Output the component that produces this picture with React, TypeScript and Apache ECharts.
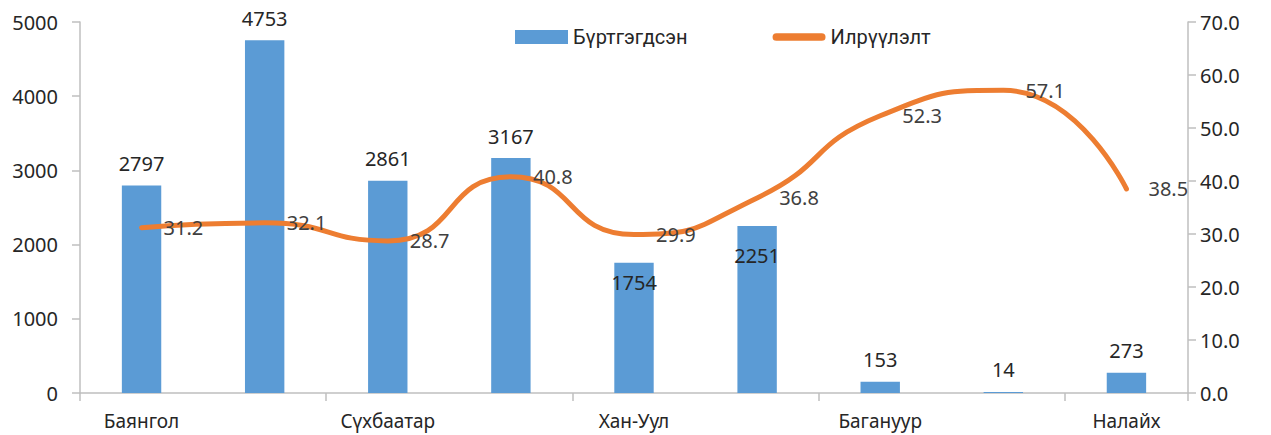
import React, { useEffect, useRef } from "react";
import * as echarts from "echarts";

const categories = ["Баянгол", "Баянзүрх", "Сүхбаатар", "Чингэлтэй", "Хан-Уул", "Сонгинохайрхан", "Багануур", "Багахангай", "Налайх"];
const registered = [2797, 4753, 2861, 3167, 1754, 2251, 153, 14, 273];
const detection = [31.2, 32.1, 28.7, 40.8, 29.9, 36.8, 52.3, 57.1, 38.5];
const insideLabelIdx = [4, 5];

const FONT = "Noto Sans";
const FS = 19;
const NFS = 20;

const lineIcon =
  "path://M0,0 L0.01,0 Z M55,14 L55.01,14 Z M4,3 L51,3 A4,4 0 0 1 51,11 L4,11 A4,4 0 0 1 4,3 Z";

export default function App() {
  const ref = useRef<HTMLDivElement>(null);
  useEffect(() => {
    const chart = echarts.init(ref.current!, null, { renderer: "svg" });
    chart.setOption({
      animation: false,
      textStyle: { fontFamily: FONT },
      legend: {
        top: 22,
        left: 510,
        itemWidth: 53,
        itemHeight: 14,
        itemGap: 85,
        textStyle: { fontSize: 20, color: "#262626", fontFamily: "Roboto" },
        data: [
          { name: "Бүртгэгдсэн", icon: "rect" },
          { name: "Илрүүлэлт", icon: lineIcon, itemStyle: { color: "#ED7D31" } },
        ],
      },
      grid: { left: 80, right: 83, top: 22, bottom: 42, containLabel: false },
      xAxis: {
        type: "category",
        data: categories,
        axisLine: { lineStyle: { color: "#BFBFBF", width: 1.5 } },
        axisTick: { show: true, length: 8, lineStyle: { color: "#BFBFBF", width: 1.5 } },
        axisLabel: { interval: 1, fontSize: FS, color: "#262626", margin: 18, fontFamily: FONT },
      },
      yAxis: [
        {
          type: "value",
          min: 0,
          max: 5000,
          interval: 1000,
          splitLine: { show: false },
          axisLine: { show: true, lineStyle: { color: "#BFBFBF", width: 1.5 } },
          axisTick: { show: true, length: 8, lineStyle: { color: "#BFBFBF", width: 1.5 } },
          axisLabel: {
            fontSize: NFS,
            color: "#262626",
            margin: 22,
            fontFamily: FONT,
            formatter: (v: number) => String(v),
          },
        },
        {
          type: "value",
          min: 0,
          max: 70,
          interval: 10,
          splitLine: { show: false },
          axisLine: { show: true, lineStyle: { color: "#BFBFBF", width: 1.5 } },
          axisTick: { show: true, length: 8, lineStyle: { color: "#BFBFBF", width: 1.5 } },
          axisLabel: {
            fontSize: NFS,
            color: "#262626",
            margin: 12,
            fontFamily: FONT,
            formatter: (v: number) => v.toFixed(1),
          },
        },
      ],
      series: [
        {
          name: "Бүртгэгдсэн",
          type: "bar",
          barWidth: "32%",
          itemStyle: { color: "#5B9BD5" },
          data: registered.map((v, i) => ({
            value: v,
            label: insideLabelIdx.includes(i)
              ? { position: "insideTop", distance: i === 4 ? 10 : 20 }
              : { position: "top", distance: 12 },
          })),
          label: { show: true, fontSize: NFS, color: "#262626", fontFamily: FONT },
          z: 2,
        },
        {
          name: "Илрүүлэлт",
          type: "line",
          yAxisIndex: 1,
          smooth: 0.55,
          symbol: "circle",
          symbolSize: 0.1,
          showSymbol: true,
          lineStyle: { color: "#ED7D31", width: 5, cap: "round" },
          itemStyle: { color: "#ED7D31" },
          data: detection,
          label: {
            show: true,
            position: "right",
            distance: 22,
            fontSize: NFS,
            color: "#404040",
            fontFamily: FONT,
            formatter: (p: any) => p.value.toFixed(1),
          },
          z: 3,
        },
      ],
    });
    return () => chart.dispose();
  }, []);
  return <div ref={ref} style={{ width: 1271, height: 435, position: "absolute", left: 0, top: 0 }} />;
}
